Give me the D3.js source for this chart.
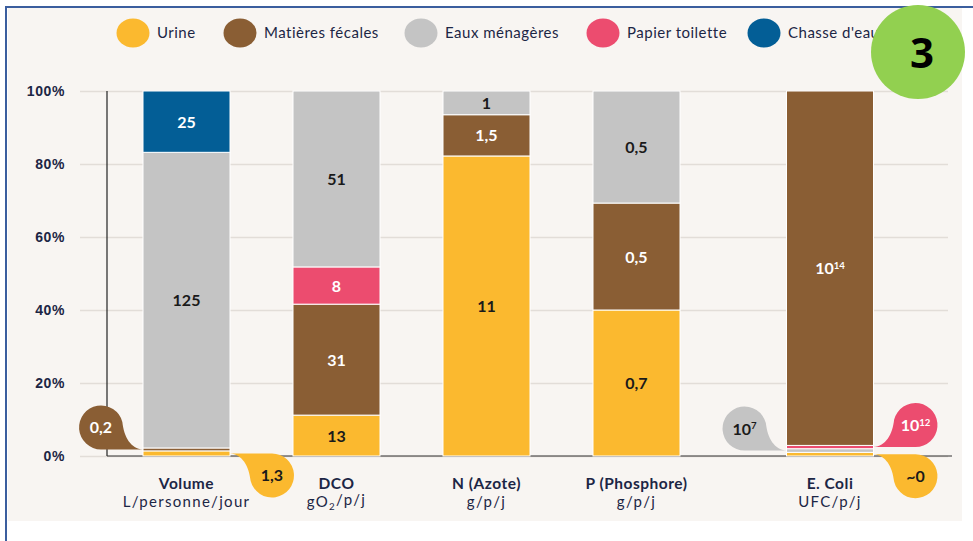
<!DOCTYPE html>
<html>
<head>
<meta charset="utf-8">
<script src="https://cdn.jsdelivr.net/npm/d3@7"></script>
<style>
  body { margin: 0; background: #fff; }
  svg { display: block; font-family: Lato, 'Open Sans', sans-serif; }
</style>
</head>
<body>
<svg id="chart" width="973" height="541"></svg>
<script>
// DATA
const categories = ['Volume', 'DCO', 'N (Azote)', 'P (Phosphore)', 'E. Coli'];
const units = ['L/personne/jour', 'gO2/p/j', 'g/p/j', 'g/p/j', 'UFC/p/j'];
const seriesNames = ['Urine', 'Matières fécales', 'Eaux ménagères', 'Papier toilette', "Chasse d'eau"];
const seriesKeys = ['urine', 'fecal', 'grey', 'paper', 'flush'];
const colors = ['#fbb92f', '#8a5e34', '#c4c4c4', '#ec4c6f', '#035e96'];

// share of each bar (%)
const urinePct = [1.4, 11.2, 82.2, 40, 1];
const fecalPct = [0.8, 30.4, 11.3, 29.3, 97.1];
const greyPct = [81, 48.2, 6.5, 30.7, 1];
const paperPct = [0, 10.2, 0, 0, 0.9];
const flushPct = [16.8, 0, 0, 0, 0];

// stacking order, bottom to top
const defaultOrder = ['urine', 'fecal', 'paper', 'grey', 'flush'];
const ecoliOrder = ['urine', 'grey', 'paper', 'fecal', 'flush'];

// labels written inside the segments
const urineLbl = ['', '13', '11', '0,7', ''];
const fecalLbl = ['', '31', '1,5', '0,5', '10|14'];
const greyLbl = ['125', '51', '1', '0,5', ''];
const paperLbl = ['', '8', '', '', ''];
const flushLbl = ['25', '', '', '', ''];

// callout drops: [category, series, text, tail direction x, tail direction y]
const callouts = [
  ['Volume', 'fecal', '0,2', 1, 1],
  ['Volume', 'urine', '1,3', -1, -1],
  ['E. Coli', 'grey', '10|7', 1, 1],
  ['E. Coli', 'paper', '10|12', -1, 1],
  ['E. Coli', 'urine', '~0', -1, -1]
];

const yTicks = [0, 20, 40, 60, 80, 100];

// SETUP
const svg = d3.select('#chart');
const navy = '#1c2645';
const dark = '#1a1a1a';
const lightText = ['fecal', 'paper', 'flush'];
const pct = { urine: urinePct, fecal: fecalPct, grey: greyPct, paper: paperPct, flush: flushPct };
const lbl = { urine: urineLbl, fecal: fecalLbl, grey: greyLbl, paper: paperLbl, flush: flushLbl };

// build segments per bar with its own order
const segments = [];
categories.forEach((c, i) => {
  const order = c === 'E. Coli' ? ecoliOrder : defaultOrder;
  let acc = 0;
  order.forEach(k => {
    const v = pct[k][i];
    if (v > 0) segments.push({ cat: c, key: k, y0: acc, y1: acc + v, label: lbl[k][i] });
    acc += v;
  });
});
const seg = (c, k) => segments.find(s => s.cat === c && s.key === k);

// E. Coli sits a little further away than the others
const slot = c => categories.indexOf(c) + (c === 'E. Coli' ? 0.29 : 0);
const x = d3.scaleLinear().domain([0, 3]).range([186.5, 636.5]);
const y = d3.scaleLinear().domain([0, 100]).range([456, 91]);
const color = d3.scaleOrdinal().domain(seriesKeys).range(colors);
const bw = 87;

// frame
svg.append('rect').attr('x', 8).attr('y', 8).attr('width', 954).attr('height', 513).attr('fill', '#f8f5f2');
svg.append('line').attr('x1', 6).attr('x2', 973).attr('y1', 7).attr('y2', 7)
  .attr('stroke', '#3b5e9e').attr('stroke-width', 2);
svg.append('line').attr('x1', 6).attr('x2', 6).attr('y1', 6).attr('y2', 541)
  .attr('stroke', '#3b5e9e').attr('stroke-width', 2);

// grid + y axis
const yAxis = svg.append('g')
  .attr('transform', 'translate(80,0)')
  .call(d3.axisLeft(y).tickValues(yTicks).tickFormat(d => d + '%').tickSize(-868).tickPadding(15));
yAxis.select('.domain').remove();
yAxis.selectAll('.tick line').attr('stroke', '#e2ddd8').attr('stroke-width', 1.5);
yAxis.selectAll('.tick text').attr('fill', navy).attr('font-size', 14).attr('font-weight', 700)
  .attr('letter-spacing', 0.6);

svg.append('line').attr('x1', 107).attr('x2', 107).attr('y1', y(100)).attr('y2', y(0))
  .attr('stroke', '#222').attr('stroke-width', 1.2);
svg.append('line').attr('x1', 107).attr('x2', 952).attr('y1', y(0)).attr('y2', y(0))
  .attr('stroke', '#333').attr('stroke-width', 1.2);

// BARS
svg.append('g').selectAll('rect').data(segments).enter().append('rect')
  .attr('x', d => x(slot(d.cat)) - bw / 2)
  .attr('y', d => y(d.y1))
  .attr('width', bw)
  .attr('height', d => y(d.y0) - y(d.y1))
  .attr('fill', d => color(d.key))
  .attr('stroke', '#fff').attr('stroke-width', 1);

// text with optional superscript written as "base|exp"
function writeText(sel, str) {
  const parts = str.split('|');
  sel.append('tspan').text(parts[0]);
  if (parts[1]) sel.append('tspan').attr('font-size', '0.6em').attr('dy', '-0.55em').text(parts[1]);
}

const valueLabels = svg.append('g');
segments.filter(s => s.label).forEach(s => {
  const t = valueLabels.append('text')
    .attr('x', x(slot(s.cat)))
    .attr('y', y((s.y0 + s.y1) / 2) + 6)
    .attr('text-anchor', 'middle')
    .attr('font-size', 16).attr('font-weight', 700)
    .attr('fill', lightText.includes(s.key) ? '#fff' : dark);
  writeText(t, s.label);
});

// CALLOUTS (teardrop with the tail running along one side into the bar)
function drop(cx, cy, r, sx, sy, tx) {
  const by = cy + sy * r;
  const sweep = sx * sy > 0 ? 0 : 1;
  const ex = cx + sx * r * 0.97, ey = cy - sy * r * 0.25;
  return `M${cx},${by} L${tx},${by} ` +
    `C${cx + sx * r * 1.35},${by - sy * 1} ${cx + sx * r * 1.05},${cy + sy * r * 0.45} ${ex},${ey} ` +
    `A${r},${r} 0 1 ${sweep} ${cx},${by} Z`;
}
const r = 22;
callouts.forEach(([cat, key, txt, sx, sy]) => {
  const s = seg(cat, key);
  const tx = x(slot(cat)) - sx * bw / 2;
  const ty = y((s.y0 + s.y1) / 2);
  const cx = tx - sx * 42;
  const cy = ty - sy * r;
  svg.append('path').attr('d', drop(cx, cy, r, sx, sy, tx)).attr('fill', color(key));
  const t = svg.append('text').attr('x', cx).attr('y', cy + 6)
    .attr('text-anchor', 'middle').attr('font-size', 16).attr('font-weight', 700)
    .attr('fill', lightText.includes(key) ? '#fff' : dark);
  writeText(t, txt);
});

// X LABELS
const xl = svg.append('g');
categories.forEach((c, i) => {
  xl.append('text').attr('x', x(slot(c))).attr('y', 489).attr('text-anchor', 'middle')
    .attr('font-size', 15.5).attr('font-weight', 700).attr('letter-spacing', 0.5)
    .attr('fill', navy).text(c);
  const u = xl.append('text').attr('x', x(slot(c))).attr('y', 507).attr('text-anchor', 'middle')
    .attr('font-size', 15).attr('letter-spacing', 1.3).attr('fill', navy);
  if (units[i].startsWith('gO2')) {
    u.append('tspan').text('gO');
    u.append('tspan').attr('font-size', '0.65em').attr('dy', '0.35em').text('2');
    u.append('tspan').attr('dy', '-0.35em').text('/p/j');
  } else {
    u.text(units[i]);
  }
});

// LEGEND
const legendX = [133, 240, 421, 603, 764];
const legend = svg.append('g').selectAll('g').data(seriesNames).enter().append('g')
  .attr('transform', (d, i) => `translate(${legendX[i]},33)`);
legend.append('ellipse').attr('rx', 16.5).attr('ry', 14.5).attr('fill', (d, i) => colors[i]);
legend.append('text').attr('x', 24).attr('y', 5).attr('font-size', 15).attr('letter-spacing', 0.5)
  .attr('fill', navy).text(d => d);

// BADGE
svg.append('circle').attr('cx', 918).attr('cy', 52).attr('r', 47).attr('fill', '#92d050');
svg.append('text').attr('x', 922).attr('y', 68).attr('text-anchor', 'middle')
  .attr('font-family', "'Open Sans', sans-serif").attr('font-size', 42).attr('font-weight', 700)
  .attr('fill', '#000').text('3');
</script>
</body>
</html>
